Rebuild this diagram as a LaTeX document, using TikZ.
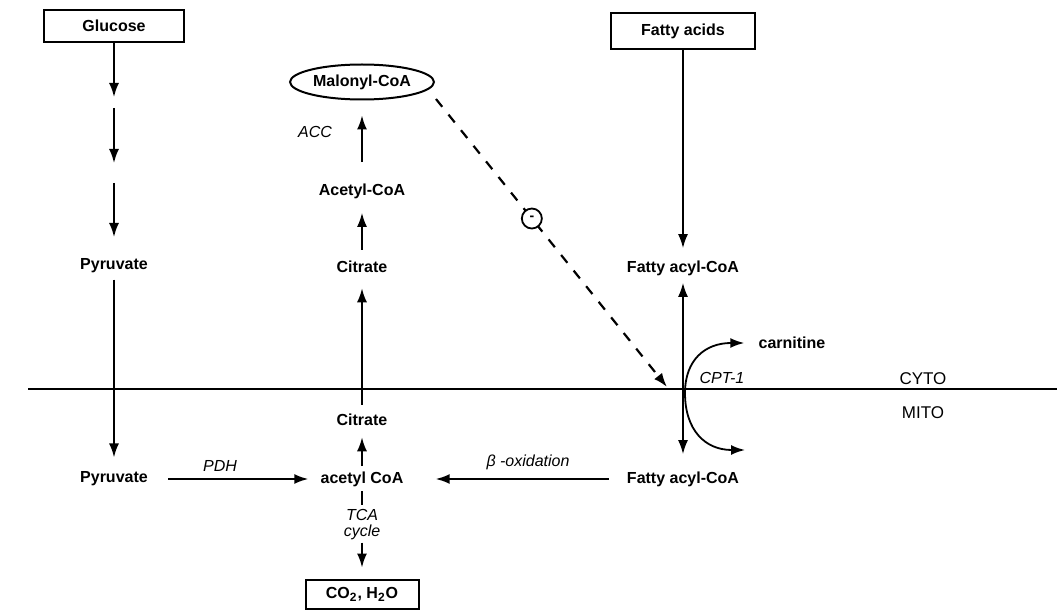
\documentclass[tikz,border=0pt]{standalone}
\usepackage{fontspec}
\setmainfont{Liberation Sans}
\usetikzlibrary{arrows.meta,shapes.geometric,positioning}

\begin{document}
\begin{tikzpicture}[
    x=0.5pt, y=-0.5pt,
    metab/.style={font=\fontsize{8}{9}\selectfont\bfseries, inner sep=1pt},
    box/.style={metab, draw, line width=1pt},
    enz/.style={font=\fontsize{8}{8}\selectfont\itshape, inner sep=1pt, align=center},
    comp/.style={font=\fontsize{8.5}{10}\selectfont, inner sep=1pt},
    arr/.style={-{Latex[length=7pt,width=5pt]}, line width=0.9pt},
    dblarr/.style={{Latex[length=7pt,width=5pt]}-{Latex[length=7pt,width=5pt]}, line width=0.9pt},
    inh/.style={draw, solid, circle, fill=white, line width=0.9pt, minimum size=10pt, inner sep=0pt, font=\fontsize{7}{7}\selectfont\bfseries}
]
\useasboundingbox (0,0) rectangle (1057,610);

\draw[line width=0.9pt] (28,389) -- (1057,389);

\node[box, minimum width=70pt, minimum height=16pt] (glc) at (114,26) {Glucose};
\node[metab] (pyr1) at (114,266) {Pyruvate};
\node[metab] (pyr2) at (114,479) {Pyruvate};
\node[metab, draw, ellipse, line width=1pt, minimum width=68.5pt, minimum height=17.5pt] (malo) at (362,82) {Malonyl-CoA};
\node[enz] (acc) at (315,132) {ACC};
\node[metab] (acoa1) at (362,191) {Acetyl-CoA};
\node[metab] (cit1) at (362,267) {Citrate};
\node[metab] (cit2) at (362,420) {Citrate};
\node[metab] (acoa2) at (362,479) {acetyl CoA};
\node[enz] (pdh) at (220,466) {PDH};
\node[enz] (tca) at (362,525) {TCA\\cycle};
\node[box, minimum width=56.5pt, minimum height=14.5pt] (co2) at (362,594) {CO\textsubscript{2}, H\textsubscript{2}O};
\node[box, minimum width=72pt, minimum height=18pt] (fa) at (683,31) {Fatty acids};
\node[metab] (fac1) at (683,268) {Fatty acyl-CoA};
\node[metab] (fac2) at (683,479) {Fatty acyl-CoA};
\node[enz] (box) at (528,462) {β -oxidation};
\node[metab] (carn) at (792,343) {carnitine};
\node[enz] (cpt) at (722,378) {CPT-1};
\node[comp] (cyto) at (923,379) {CYTO};
\node[comp] (mito) at (923,413) {MITO};

\coordinate (g1) at (114,97);
\coordinate (g2) at (114,108);
\coordinate (g3) at (114,163);
\coordinate (g4) at (114,183);
\coordinate (g5) at (114,237);
\coordinate (dstart) at ([shift={(1,17)}]malo.east);
\coordinate (ctip) at (667,387);
\coordinate (cbot) at (745,450);

\draw[arr] (glc.south) -- (g1);
\draw[arr] (g2) -- (g3);
\draw[arr] (g4) -- (g5);
\draw[arr, shorten <=2pt, shorten >=6pt] (pyr1.south) -- (pyr2.north);
\draw[arr, shorten <=9pt, shorten >=5pt] (pyr2.east) -- (acoa2.west);
\draw[arr, shorten <=1.5pt, shorten >=4.5pt] (acoa2.north) -- (cit2.south);
\draw[arr, shorten <=3.5pt, shorten >=6.5pt] (cit2.north) -- (cit1.south);
\draw[arr, shorten <=4.5pt, shorten >=6pt] (cit1.north) -- (acoa1.south);
\draw[arr, shorten <=9.5pt, shorten >=7.5pt] (acoa1.north) -- (malo.south);
\draw[line width=0.9pt, shorten <=1.2pt, shorten >=1pt] (acoa2.south) -- (tca.north);
\draw[arr, shorten >=5.5pt] (tca.south) -- (co2.north);
\draw[arr, shorten >=5pt] (fa.south) -- (fac1.north);
\draw[dblarr, shorten <=2.5pt, shorten >=7.5pt] (fac1.south) -- (fac2.north);
\draw[arr, shorten <=8pt, shorten >=15pt] (fac2.west) -- (acoa2.east);
\draw[arr, line width=1.1pt, dash pattern=on 5pt off 5pt] (dstart) -- node[inh, pos=0.415] (minus) {-} (ctip);
\draw[dblarr, shorten >=6pt] (cbot) .. controls (705,450) and (685,430) .. (685,393)
    .. controls (685,360) and (705,343) .. (carn.west);
\end{tikzpicture}
\end{document}
